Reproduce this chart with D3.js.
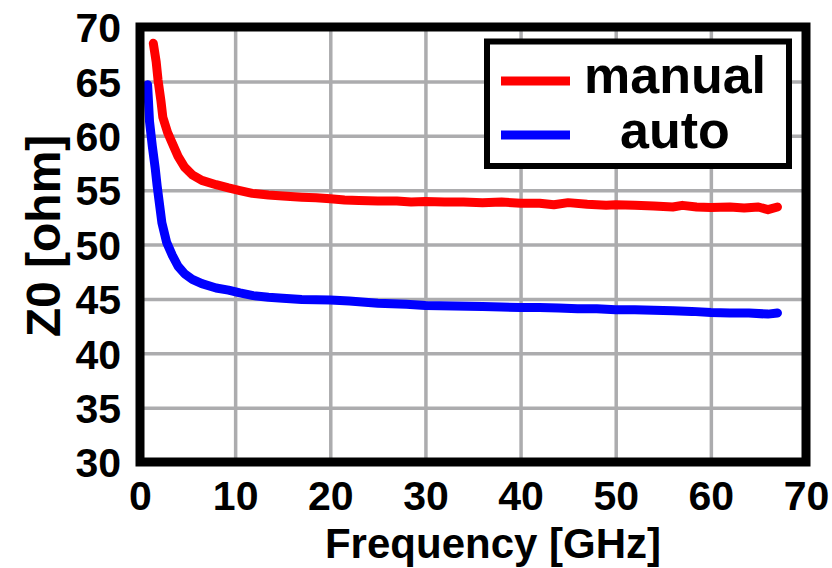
<!DOCTYPE html>
<html>
<head>
<meta charset="utf-8">
<script src="https://cdn.jsdelivr.net/npm/d3@7"></script>
<style>
  html, body { margin: 0; padding: 0; background: #fff; }
  svg { display: block; }
</style>
</head>
<body>
<div id="chart"></div>
<script>
const xTicks = [0, 10, 20, 30, 40, 50, 60, 70]
const yTicks = [30, 35, 40, 45, 50, 55, 60, 65, 70]
const seriesNames = ['manual', 'auto']
const seriesColors = ['#ff0000', '#0000ff']

const manualFreq = [1.4, 1.7, 1.9, 2.2, 2.4, 2.9, 3.4, 4.0, 4.7, 5.5, 6.5, 8, 9.3, 10.5, 11.8, 13.5, 15, 17, 18.5, 20,
  21.5, 23, 25, 27, 28.5, 30, 32, 34, 36, 38, 40, 42, 43.5, 45, 47, 49, 50, 52, 54, 56, 57, 58.5, 60, 62, 63.5, 65, 66, 67]
const manualZ0 = [68.5, 66.8, 65.1, 63.2, 61.7, 60.3, 59.3, 58.1, 57.1, 56.4, 55.9, 55.5, 55.2, 54.95, 54.7, 54.55, 54.45, 54.35, 54.3, 54.2,
  54.1, 54.05, 54.0, 54.0, 53.9, 53.95, 53.9, 53.9, 53.85, 53.9, 53.8, 53.8, 53.65, 53.85, 53.7, 53.6, 53.65, 53.6, 53.55, 53.45, 53.6, 53.45, 53.4, 53.45, 53.35, 53.45, 53.2, 53.45]

const autoFreq = [0.8, 1.0, 1.3, 1.6, 1.8, 2.3, 2.8, 3.4, 4.0, 4.7, 5.5, 6.5, 8, 9.3, 10.5, 11.9, 13.5, 15, 17, 20,
  22, 25, 28, 30, 33, 36, 38, 40, 42, 44, 46, 48, 50, 52, 54, 56, 58, 60, 62, 64, 66, 67]
const autoZ0 = [64.7, 61.3, 59.0, 57.0, 55.4, 52.0, 50.2, 49.0, 48.0, 47.3, 46.8, 46.4, 46.0, 45.8, 45.55, 45.3, 45.15, 45.05, 44.95, 44.9,
  44.8, 44.6, 44.5, 44.4, 44.35, 44.3, 44.25, 44.2, 44.2, 44.15, 44.1, 44.1, 44.0, 44.0, 43.95, 43.9, 43.85, 43.75, 43.7, 43.7, 43.6, 43.7]

const width = 832
const height = 568
const plotLeft = 140, plotRight = 806, plotTop = 27, plotBottom = 462
const font = '"Liberation Sans", Arial, sans-serif'

const svg = d3.select('#chart').append('svg').attr('width', width).attr('height', height)

const x = d3.scaleLinear().domain([0, 70]).range([plotLeft, plotRight])
const y = d3.scaleLinear().domain([30, 70]).range([plotBottom, plotTop])

// grid + tick labels
const gx = svg.append('g').attr('transform', `translate(0,${plotBottom})`)
  .call(d3.axisBottom(x).tickValues(xTicks).tickSize(-(plotBottom - plotTop)).tickFormat(d3.format('d')))
const gy = svg.append('g').attr('transform', `translate(${plotLeft},0)`)
  .call(d3.axisLeft(y).tickValues(yTicks).tickSize(-(plotRight - plotLeft)).tickFormat(d3.format('d')))
;[gx, gy].forEach((g) => {
  g.select('.domain').remove()
  g.selectAll('.tick line').attr('stroke', '#acacae').attr('stroke-width', 3.5)
  g.selectAll('.tick text').attr('fill', '#000').style('font-family', font).style('font-weight', 'bold').style('font-size', '41px')
})
gx.selectAll('.tick text').attr('y', 48).attr('dy', 0)
gy.selectAll('.tick text').attr('x', -19).attr('dy', '0.36em')

// curves
const line = d3.line().x((d) => x(d[0])).y((d) => y(d[1]))
const series = [d3.zip(manualFreq, manualZ0), d3.zip(autoFreq, autoZ0)]
svg.append('g').selectAll('path').data(series).enter().append('path')
  .attr('d', line)
  .attr('fill', 'none')
  .attr('stroke', (d, i) => seriesColors[i])
  .attr('stroke-width', 9)
  .attr('stroke-linecap', 'round')
  .attr('stroke-linejoin', 'round')

// frame
svg.append('rect').attr('x', plotLeft).attr('y', plotTop).attr('width', plotRight - plotLeft).attr('height', plotBottom - plotTop)
  .attr('fill', 'none').attr('stroke', '#000').attr('stroke-width', 9)

// legend
const legend = svg.append('g')
legend.append('rect').attr('x', 487).attr('y', 41.5).attr('width', 302).attr('height', 124.5)
  .attr('fill', '#fff').attr('stroke', '#000').attr('stroke-width', 6)
seriesNames.forEach((name, i) => {
  const ly = 81 + i * 54
  legend.append('line').attr('x1', 501).attr('x2', 570).attr('y1', ly).attr('y2', ly)
    .attr('stroke', seriesColors[i]).attr('stroke-width', 9)
  legend.append('text').attr('x', 675).attr('y', ly + 12 + i * 1).attr('text-anchor', 'middle')
    .style('font-family', font).style('font-weight', 'bold').style('font-size', '52px')
    .text(name)
})

// axis titles
svg.append('text').attr('x', 493).attr('y', 558).attr('text-anchor', 'middle')
  .style('font-family', font).style('font-weight', 'bold').style('font-size', '42px')
  .text('Frequency [GHz]')
svg.append('text').attr('transform', 'translate(60,236) rotate(-90)').attr('text-anchor', 'middle')
  .style('font-family', font).style('font-weight', 'bold').style('font-size', '48px')
  .text('Z0 [ohm]')
</script>
</body>
</html>
